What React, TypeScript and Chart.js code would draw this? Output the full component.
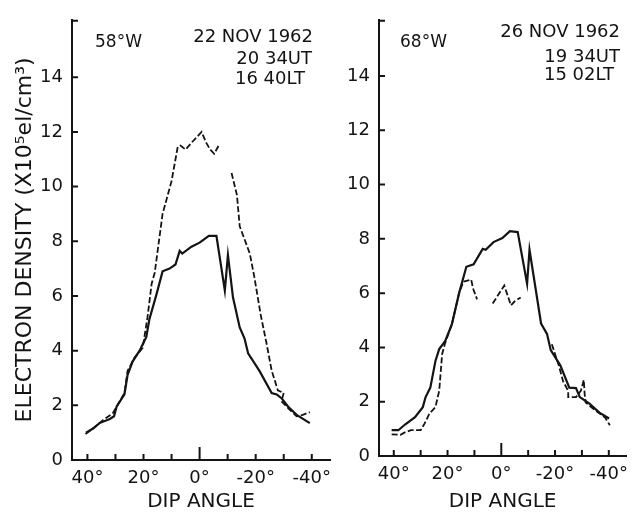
import React, { useEffect, useRef } from "react";
import { Chart, registerables } from "chart.js";
Chart.register(...registerables);

const xTickValues = [40, 20, 0, -20, -40];
const xMinorTicks = [40, 30, 20, 10, 0, -10, -20, -30, -40];
const yTickValues = [0, 2, 4, 6, 8, 10, 12, 14];

// Panel 1: 58°W, 22 NOV 1962
const leftSolidX = [40.5, 38, 35.7, 32, 30.5, 29.6, 26.8, 25.7, 23.9, 21.4, 19, 17.9, 15.4, 13.2, 10.7, 8.6, 7.1, 6.2, 2.9, 0, -3.3, -6, -9, -10.1, -11.9, -14.3, -16, -17.3, -21.4, -25.7, -27.5, -29.3, -31.6, -34.6, -39.3];
const leftSolidY = [1.0, 1.15, 1.35, 1.5, 1.6, 1.95, 2.4, 3.1, 3.6, 4.0, 4.5, 5.15, 6.05, 6.9, 7.0, 7.15, 7.65, 7.55, 7.8, 7.95, 8.2, 8.2, 6.2, 7.5, 5.95, 4.85, 4.45, 3.9, 3.25, 2.45, 2.4, 2.25, 1.95, 1.65, 1.35];
const leftDashAX = [40.7, 38, 34.6, 31, 29.6, 26.8, 25.7, 23.2, 20.3, 18.6, 17.1, 16, 13.2, 10, 7.8, 6.8, 5, 2.9, -0.7, -2.4, -3.8, -5.2, -6.8];
const leftDashAY = [0.95, 1.15, 1.45, 1.7, 1.95, 2.45, 3.25, 3.75, 4.1, 5.2, 6.45, 6.85, 9.0, 10.2, 11.45, 11.5, 11.35, 11.6, 12.0, 11.6, 11.35, 11.2, 11.5];
const leftDashBX = [-11.4, -13.3, -14.3, -17.9, -19.6, -21.8, -23.9, -25.7, -27.9, -30, -29.2, -32, -34.6, -36.8, -39.3];
const leftDashBY = [10.5, 9.7, 8.55, 7.55, 6.65, 5.3, 4.25, 3.27, 2.55, 2.45, 2.15, 1.85, 1.6, 1.65, 1.75];

// Panel 2: 68°W, 26 NOV 1962
const rightSolidX = [40.8, 38.3, 35.7, 32.1, 29.2, 28.2, 26.4, 24.5, 23.1, 20.9, 18.4, 15.7, 13, 10.3, 6.9, 5.8, 2.9, -0.4, -3.2, -6.1, -9.6, -10.5, -14.8, -17, -18.4, -22, -25.3, -27.8, -29.2, -32.8, -36.5, -40.1];
const rightSolidY = [0.95, 0.95, 1.17, 1.43, 1.8, 2.16, 2.52, 3.5, 3.94, 4.23, 4.85, 6.0, 6.97, 7.06, 7.63, 7.6, 7.88, 8.03, 8.28, 8.25, 6.35, 7.6, 4.88, 4.5, 3.9, 3.33, 2.52, 2.5, 2.17, 1.93, 1.6, 1.38];
const rightDashAX = [40.8, 37.5, 35.7, 33.6, 30, 28.5, 26.7, 24.5, 23.1, 22, 20.9, 18.4, 15.7, 14.1, 11.2, 10.5, 9];
const rightDashAY = [0.8, 0.78, 0.88, 0.95, 0.95, 1.2, 1.57, 1.8, 2.4, 3.76, 4.16, 4.85, 6.0, 6.42, 6.5, 6.17, 5.77];
const rightDashBX = [3.2, -1.1, -3.6, -5, -7.2];
const rightDashBY = [5.62, 6.28, 5.55, 5.7, 5.84];
const rightDashCX = [-18.8, -21.5, -23, -24.9, -24.9, -27.8, -29.6, -30.7, -31, -31.4, -35, -38.6, -40.4];
const rightDashCY = [4.12, 3.3, 2.75, 2.4, 2.17, 2.17, 2.4, 2.8, 2.3, 1.97, 1.68, 1.42, 1.13];

const leftLabels = ["58°W", "22 NOV 1962", "20 34UT", "16 40LT"];
const rightLabels = ["68°W", "26 NOV 1962", "19 34UT", "15 02LT"];

const INK = "#141414";
const FONT = "'DejaVu Sans', sans-serif";

const pts = (xs: number[], ys: number[]) => xs.map((x, i) => ({ x, y: ys[i] }));

type TextSpec = { text: string; x: number; y: number; align: CanvasTextAlign; size: number };

function makeDecor(texts: TextSpec[]) {
  return {
    id: "decor",
    afterDraw(chart: any) {
      const { ctx, scales } = chart;
      const x = scales.x;
      const y = scales.y;
      ctx.save();
      ctx.strokeStyle = INK;
      ctx.lineWidth = 2;
      ctx.beginPath();
      for (const v of yTickValues) {
        const py = y.getPixelForValue(v);
        ctx.moveTo(x.left, py);
        ctx.lineTo(x.left + 6, py);
      }
      ctx.moveTo(x.left, y.top + 1);
      ctx.lineTo(x.left + 6, y.top + 1);
      for (const v of xMinorTicks) {
        const px = x.getPixelForValue(v);
        const len = v === 0 ? 13 : 6;
        ctx.moveTo(px, y.bottom);
        ctx.lineTo(px, y.bottom - len);
      }
      ctx.stroke();
      ctx.fillStyle = INK;
      ctx.textBaseline = "middle";
      for (const t of texts) {
        ctx.font = `${t.size}px ${FONT}`;
        ctx.textAlign = t.align;
        ctx.fillText(t.text, t.x, t.y);
      }
      ctx.restore();
    },
  };
}

function buildConfig(
  series: { d: { x: number; y: number }[]; dashed: boolean }[],
  yWidth: number,
  xHeight: number,
  topPad: number,
  rightPad: number,
  yMax: number,
  yTitle: string | null,
  texts: TextSpec[]
): any {
  return {
    type: "line",
    data: {
      datasets: series.map((s) => ({
        data: s.d,
        borderColor: INK,
        borderWidth: s.dashed ? 1.8 : 2.2,
        borderDash: s.dashed ? [6, 2.5] : [],
        pointRadius: 0,
        tension: 0,
        fill: false,
      })),
    },
    options: {
      responsive: false,
      animation: false,
      layout: { padding: { top: topPad, right: rightPad, left: 0, bottom: 0 } },
      plugins: { legend: { display: false }, tooltip: { enabled: false } },
      scales: {
        x: {
          type: "linear",
          min: -46.5,
          max: 45.5,
          reverse: true,
          afterBuildTicks: (s: any) => {
            s.ticks = xTickValues.map((v) => ({ value: v }));
          },
          afterFit: (s: any) => {
            s.height = xHeight;
          },
          ticks: {
            autoSkip: false,
            maxRotation: 0,
            padding: 8,
            color: INK,
            font: { family: FONT, size: 18 },
            callback: (v: any) => `${v}°`,
          },
          grid: { display: true, drawOnChartArea: false, drawTicks: false },
          border: { display: true, color: INK, width: 2 },
          title: {
            display: true,
            text: "DIP ANGLE",
            color: INK,
            font: { family: FONT, size: 20, lineHeight: 1.2 },
            padding: { top: 0, bottom: 0 },
          },
        },
        y: {
          type: "linear",
          min: 0,
          max: yMax,
          afterBuildTicks: (s: any) => {
            s.ticks = yTickValues.map((v) => ({ value: v }));
          },
          afterFit: (s: any) => {
            s.width = yWidth;
          },
          ticks: {
            padding: 9,
            color: INK,
            font: { family: FONT, size: 18 },
          },
          grid: { display: true, drawOnChartArea: false, drawTicks: false },
          border: { display: true, color: INK, width: 2 },
          title: {
            display: !!yTitle,
            text: yTitle || "",
            color: INK,
            font: { family: FONT, size: 22, lineHeight: 1.2 },
            padding: { top: 12, bottom: 0 },
          },
        },
      },
    },
    plugins: [makeDecor(texts)],
  };
}

export default function App() {
  const leftRef = useRef<HTMLCanvasElement>(null);
  const rightRef = useRef<HTMLCanvasElement>(null);

  useEffect(() => {
    const leftChart = new Chart(
      leftRef.current as HTMLCanvasElement,
      buildConfig(
        [
          { d: pts(leftSolidX, leftSolidY), dashed: false },
          { d: pts(leftDashAX, leftDashAY), dashed: true },
          { d: pts(leftDashBX, leftDashBY), dashed: true },
        ],
        72,
        54,
        12,
        10,
        16.1,
        "ELECTRON DENSITY (X10⁵el/cm³)",
        [
          { text: leftLabels[0], x: 95, y: 43, align: "left", size: 17 },
          { text: leftLabels[1], x: 313, y: 37, align: "right", size: 18 },
          { text: leftLabels[2], x: 312, y: 59, align: "right", size: 18 },
          { text: leftLabels[3], x: 305, y: 79, align: "right", size: 18 },
        ]
      )
    );
    const rightChart = new Chart(
      rightRef.current as HTMLCanvasElement,
      buildConfig(
        [
          { d: pts(rightSolidX, rightSolidY), dashed: false },
          { d: pts(rightDashAX, rightDashAY), dashed: true },
          { d: pts(rightDashBX, rightDashBY), dashed: true },
          { d: pts(rightDashCX, rightDashCY), dashed: true },
        ],
        49,
        58,
        10,
        0,
        16.07,
        null,
        [
          { text: rightLabels[0], x: 70, y: 43, align: "left", size: 17 },
          { text: rightLabels[1], x: 290, y: 32, align: "right", size: 18 },
          { text: rightLabels[2], x: 290, y: 57, align: "right", size: 18 },
          { text: rightLabels[3], x: 284, y: 75, align: "right", size: 18 },
        ]
      )
    );
    return () => {
      leftChart.destroy();
      rightChart.destroy();
    };
  }, []);

  return (
    <div style={{ position: "fixed", left: 0, top: 0, width: 636, height: 514, background: "#fff" }}>
      <canvas ref={leftRef} width={340} height={514} style={{ position: "absolute", left: 0, top: 0 }} />
      <canvas ref={rightRef} width={306} height={514} style={{ position: "absolute", left: 330, top: 0 }} />
    </div>
  );
}
